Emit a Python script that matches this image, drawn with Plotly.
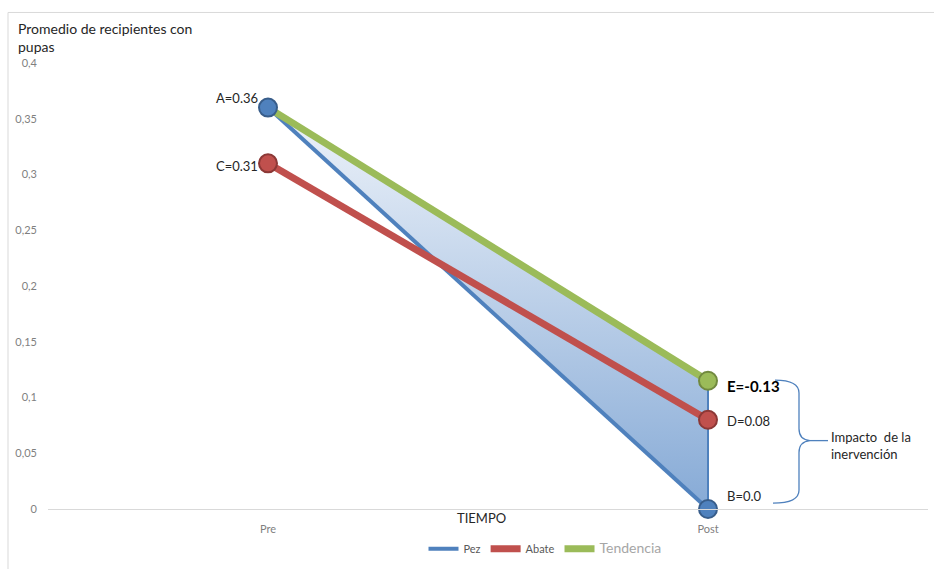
import plotly.graph_objects as go

# --- data ---
tiempo = ["Pre", "Post"]
pez = [0.36, 0.0]
abate = [0.31, 0.08]
tendencia = [0.36, 0.115]
y_ticks = [0, 0.05, 0.1, 0.15, 0.2, 0.25, 0.3, 0.35, 0.4]
y_tick_text = ["0", "0,05", "0,1", "0,15", "0,2", "0,25", "0,3", "0,35", "0,4"]
label_pez = ["A=0.36", "B=0.0"]
label_abate = ["C=0.31", "D=0.08"]
label_tend = "E=-0.13"

BLUE, BLUE_D = "#4f81bd", "#385d8a"
RED, RED_D = "#c0504d", "#8c3836"
GREEN, GREEN_D = "#9bbb59", "#71893f"
TXT = "#262626"
GRAY = "#7f7f7f"

W, H = 934, 569
L, R, T, B = 48, 6, 63, 56
PW, PH = W - L - R, H - T - B


def px(x):
    return (x - L) / PW


def py(y):
    return (H - B - y) / PH


fig = go.Figure()

# shaded impact region between the trend end and the Pez end
fig.add_trace(go.Scatter(
    x=[tiempo[0], tiempo[1], tiempo[1], tiempo[0]],
    y=[pez[0], tendencia[1], pez[1], pez[0]],
    mode="lines", fill="toself",
    fillgradient=dict(type="vertical",
                      colorscale=[[0, "#86aad6"], [1, "#eef3fa"]]),
    line=dict(color=BLUE, width=2),
    showlegend=False, hoverinfo="skip"))

fig.add_trace(go.Scatter(x=tiempo, y=pez, mode="lines", name="Pez",
                         line=dict(color=BLUE, width=4)))
fig.add_trace(go.Scatter(x=tiempo, y=abate, mode="lines", name="Abate",
                         line=dict(color=RED, width=7)))
fig.add_trace(go.Scatter(
    x=tiempo, y=tendencia, mode="lines",
    name="<span style='font-size:14px;color:#a6a6a6'>Tendencia</span>",
    line=dict(color=GREEN, width=7)))

# end-point markers
for ys, c, cd in [(pez, BLUE, BLUE_D), (abate, RED, RED_D)]:
    fig.add_trace(go.Scatter(x=tiempo, y=ys, mode="markers", showlegend=False,
                             cliponaxis=False,
                             marker=dict(size=18, color=c, line=dict(color=cd, width=2))))
fig.add_trace(go.Scatter(x=[tiempo[1]], y=[tendencia[1]], mode="markers",
                         showlegend=False, cliponaxis=False,
                         marker=dict(size=18, color=GREEN, line=dict(color=GREEN_D, width=2))))

ann = []
# value labels
ann.append(dict(x=tiempo[0], y=pez[0], text=label_pez[0], xanchor="right",
                xshift=-8, yshift=10, font=dict(size=13, color=TXT)))
ann.append(dict(x=tiempo[0], y=abate[0], text=label_abate[0], xanchor="right",
                xshift=-8, yshift=-3, font=dict(size=13, color=TXT)))
ann.append(dict(x=tiempo[1], y=tendencia[1], text="<b>" + label_tend + "</b>",
                xanchor="left", xshift=17, yshift=-5, font=dict(size=15, color="#000000")))
ann.append(dict(x=tiempo[1], y=abate[1], text=label_abate[1], xanchor="left",
                xshift=17, yshift=-1, font=dict(size=13, color=TXT)))
ann.append(dict(x=tiempo[1], y=pez[1], text=label_pez[1], xanchor="left",
                xshift=17, yshift=13, font=dict(size=13, color=TXT)))
# brace text
ann.append(dict(x=px(829), y=py(449), xref="paper", yref="paper", xanchor="left",
                yanchor="middle", align="left",
                text="Impacto  de la<br>inervención", font=dict(size=13, color=TXT)))
# axis titles
ann.append(dict(x=px(16), y=py(37), xref="paper", yref="paper", xanchor="left",
                yanchor="middle", align="left",
                text="Promedio de recipientes con<br>pupas", font=dict(size=14, color=TXT)))
ann.append(dict(x=px(481), y=py(522), xref="paper", yref="paper", xanchor="center",
                yanchor="middle", text="TIEMPO", font=dict(size=13, color=TXT)))
for a in ann:
    a.setdefault("showarrow", False)
    a.setdefault("xref", "x")
    a.setdefault("yref", "y")

# curly brace
def P(x, y):
    return f"{px(x):.5f},{py(y):.5f}"

brace = (f"M {P(775,383)} Q {P(799,383)} {P(799,396)} L {P(799,432)} "
         f"Q {P(799,443)} {P(810,444)} Q {P(799,445)} {P(799,456)} "
         f"L {P(799,494)} Q {P(799,507)} {P(773,507)}")
shapes = [
    dict(type="path", path=brace, xref="paper", yref="paper",
         line=dict(color=BLUE, width=1.3)),
    dict(type="line", xref="paper", yref="paper", x0=px(810), y0=py(444),
         x1=px(828), y1=py(444), line=dict(color=BLUE, width=1.3)),
    # chart frame
    dict(type="rect", xref="paper", yref="paper", x0=px(8), y0=py(12),
         x1=px(W + 20), y1=py(H + 20), line=dict(color="#d9d9d9", width=1),
         layer="below"),
]

fig.update_layout(
    width=W, height=H,
    margin=dict(l=L, r=R, t=T, b=B),
    paper_bgcolor="white", plot_bgcolor="white",
    font=dict(family="Lato, 'Open Sans', sans-serif", color=GRAY),
    xaxis=dict(type="category", range=[-0.5, 1.5], showgrid=False,
               zeroline=False, showline=True, linecolor="#d9d9d9", linewidth=1,
               ticks="", tickfont=dict(size=11, color=GRAY), ticklabelstandoff=10),
    yaxis=dict(range=[0, 0.4], showgrid=False, zeroline=False, showline=False,
               tickvals=y_ticks, ticktext=y_tick_text, ticks="",
               tickfont=dict(size=11, color=GRAY), ticklabelstandoff=10),
    legend=dict(orientation="h", x=px(545), xanchor="center", y=py(553),
                yanchor="middle", font=dict(size=11, color="#595959"),
                bgcolor="rgba(0,0,0,0)", itemwidth=30),
    annotations=ann, shapes=shapes,
    showlegend=True,
)

fig.write_html("out.html")
